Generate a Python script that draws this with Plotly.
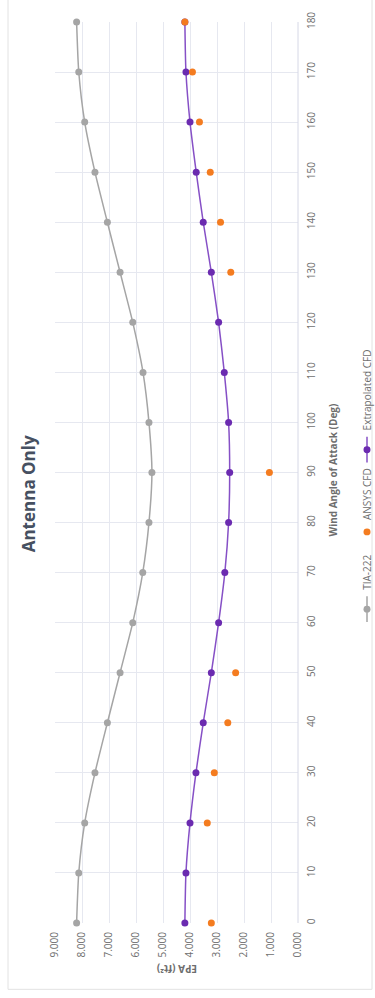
import plotly.graph_objects as go

# Wind angle of attack (deg) and effective projected area (ft^2)
angles = [0, 10, 20, 30, 40, 50, 60, 70, 80, 90, 100, 110, 120, 130, 140, 150, 160, 170, 180]
tia_222 = [8.20, 8.12, 7.90, 7.52, 7.06, 6.59, 6.12, 5.75, 5.52, 5.41, 5.52, 5.74, 6.12, 6.59, 7.06, 7.52, 7.90, 8.12, 8.20]
extrapolated_cfd = [4.19, 4.15, 4.00, 3.78, 3.51, 3.21, 2.94, 2.71, 2.57, 2.53, 2.57, 2.73, 2.94, 3.21, 3.51, 3.77, 4.00, 4.15, 4.19]
ansys_angles = [0, 20, 30, 40, 50, 90, 130, 140, 150, 160, 170, 180]
ansys_cfd = [3.21, 3.36, 3.10, 2.60, 2.31, 1.06, 2.49, 2.87, 3.25, 3.65, 3.91, 4.19]

epa_ticks = [9, 8, 7, 6, 5, 4, 3, 2, 1, 0]
angle_ticks = list(range(0, 181, 10))

W, H = 375, 998
L, R, T, B = 55, 77, 13, 75
PW, PH = W - L - R, H - T - B

GRAY = "#A5A5A5"
PURPLE = "#6B2BB0"
PURPLE_LINE = "#8650C6"
ORANGE = "#F47C20"
TEXT = "#6E6E6E"
FONT = "Open Sans"


def px(x):
    return (x - L) / PW


def py(y):
    return (H - B - y) / PH


fig = go.Figure()

fig.add_trace(go.Scatter(
    x=tia_222, y=angles, mode="lines+markers", name="TIA-222",
    line=dict(color=GRAY, width=1.5, shape="spline", smoothing=0.6),
    marker=dict(color=GRAY, size=7), cliponaxis=False,
))
fig.add_trace(go.Scatter(
    x=extrapolated_cfd, y=angles, mode="lines+markers", name="Extrapolated CFD",
    line=dict(color=PURPLE_LINE, width=1.5, shape="spline", smoothing=0.6),
    marker=dict(color=PURPLE, size=7), cliponaxis=False,
))
fig.add_trace(go.Scatter(
    x=ansys_cfd, y=ansys_angles, mode="markers", name="ANSYS CFD",
    marker=dict(color=ORANGE, size=7), cliponaxis=False,
))

fig.update_xaxes(
    range=[9, 0], tickvals=epa_ticks, tickformat=".3f", tickangle=-90,
    showgrid=True, gridcolor="#E6E8F0", gridwidth=1, zeroline=False,
    showline=False, ticks="", ticklabelstandoff=6,
    tickfont=dict(family=FONT, size=10, color=TEXT),
)
fig.update_yaxes(
    range=[0, 180], tickvals=angle_ticks, side="right", tickangle=-90,
    showgrid=True, gridcolor="#E6E8F0", gridwidth=1, zeroline=False,
    showline=False, ticks="", ticklabelstandoff=6,
    tickfont=dict(family=FONT, size=10, color=TEXT),
)

shapes = [
    # outer chart frame
    dict(type="rect", xref="paper", yref="paper",
         x0=px(8), x1=px(372), y0=py(990), y1=py(-10),
         line=dict(color="#E2E2E2", width=1), layer="below"),
    # category axis line at EPA = 0
    dict(type="line", xref="paper", yref="paper",
         x0=px(298), x1=px(298), y0=0, y1=1,
         line=dict(color="#D6D8E6", width=1)),
]

annotations = [
    dict(text="<b>Antenna Only</b>", x=px(28), y=py(490), xref="paper", yref="paper",
         textangle=-90, showarrow=False, xanchor="center", yanchor="middle",
         font=dict(family=FONT, size=17, color="#465061")),
    dict(text="<b>EPA (ft²)</b>", x=px(177), y=py(970), xref="paper", yref="paper",
         textangle=180, showarrow=False, xanchor="center", yanchor="middle",
         font=dict(family=FONT, size=10, color=TEXT)),
    dict(text="<b>Wind Angle of Attack (Deg)</b>", x=px(333), y=py(466), xref="paper", yref="paper",
         textangle=-90, showarrow=False, xanchor="center", yanchor="middle",
         font=dict(family=FONT, size=10, color=TEXT)),
]

# legend, laid out along the right edge
LX = 367
legend_items = [
    ("TIA-222", "line", GRAY, GRAY, 606, 589),
    ("ANSYS CFD", "marker", ORANGE, ORANGE, 528, 518),
    ("Extrapolated CFD", "line", PURPLE_LINE, PURPLE, 445, 428),
]
for label, kind, lcol, mcol, sym_y, text_bottom in legend_items:
    if kind == "line":
        shapes.append(dict(type="line", xref="paper", yref="paper",
                           x0=px(LX), x1=px(LX), y0=py(sym_y + 13), y1=py(sym_y - 13),
                           line=dict(color=lcol, width=1.5)))
    shapes.append(dict(type="circle", xref="paper", yref="paper",
                       x0=px(LX - 3.5), x1=px(LX + 3.5), y0=py(sym_y + 3.5), y1=py(sym_y - 3.5),
                       fillcolor=mcol, line=dict(color=mcol, width=0)))
    annotations.append(dict(text=label, x=px(LX), y=py(text_bottom), xref="paper", yref="paper",
                            textangle=-90, showarrow=False, xanchor="center", yanchor="bottom",
                            font=dict(family=FONT, size=10, color=TEXT)))

fig.update_layout(
    width=W, height=H,
    margin=dict(l=L, r=R, t=T, b=B),
    paper_bgcolor="white", plot_bgcolor="white",
    showlegend=False,
    shapes=shapes, annotations=annotations,
)

fig.write_html("out.html")
